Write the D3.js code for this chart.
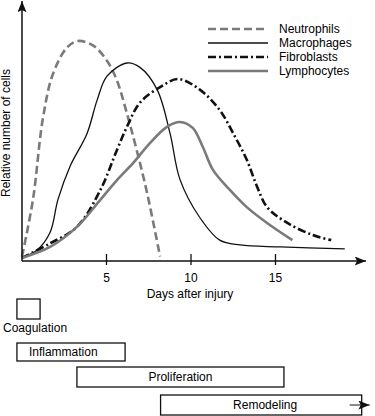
<!DOCTYPE html>
<html>
<head>
<meta charset="utf-8">
<script src="https://cdn.jsdelivr.net/npm/d3@7"></script>
<style>
body{margin:0;background:#fff;}
svg{display:block;font-family:"Liberation Sans",Arial,sans-serif;}
</style>
</head>
<body>
<svg id="chart" width="375" height="416"></svg>
<script>
// curves: [day, relative amount]
var neutrophils = [[0,2],[0.65,28],[1.24,65],[1.83,85],[2.66,97],[3.3,100],[4.2,98],[5.03,91],[5.62,82],[6.21,67],[6.8,50],[7.4,31],[8.17,2]];
var macrophages = [[0,1.4],[0.89,5],[1.66,13],[2.13,28],[2.84,43],[3.85,58],[4.44,73],[5.03,84],[6.21,90],[6.98,88],[7.99,78],[8.76,58],[9.35,37],[10.5,20],[11.7,9.5],[12.9,7.3],[15.3,6.4],[19.1,5.5]];
var fibroblasts = [[0,1.4],[1.66,8],[3.25,15.5],[4.62,32],[5.62,50.5],[6.21,61],[6.98,72],[8.17,79],[9.23,82.7],[10.5,78],[11.7,68.6],[12.5,58],[13.3,46],[13.9,34],[14.5,24.5],[15.7,17.3],[17.2,11.8],[18.3,9.5]];
var lymphocytes = [[0,1.4],[1.66,6.4],[3.25,15.5],[4.62,27.7],[5.62,36.8],[6.57,44.5],[7.57,53.6],[8.58,61],[9.35,63.2],[10.1,60.5],[10.7,51.8],[11.3,41.4],[12.3,32.3],[13.3,24.5],[14.5,17.3],[16,9.5]];

var seriesNames = ["Neutrophils","Macrophages","Fibroblasts","Lymphocytes"];
var xTicks = [5,10,15];

// phases below the chart: [name, start day, end day]
var phases = [["Coagulation",-0.3,1.07],["Inflammation",-0.3,6.1],["Proliferation",3.25,15.5],["Remodeling",8.2,20.1]];

var svg = d3.select("#chart");
var x = d3.scaleLinear().domain([0,20]).range([22,360]);
var y = d3.scaleLinear().domain([0,100]).range([261,41]);

var styles = {
  Neutrophils:{stroke:"#7a7a7a",width:2.6,dash:"8,4"},
  Macrophages:{stroke:"#111",width:1.3,dash:null},
  Fibroblasts:{stroke:"#111",width:2.6,dash:"8,3,2,3"},
  Lymphocytes:{stroke:"#7a7a7a",width:2.6,dash:null}
};
var allData = [neutrophils,macrophages,fibroblasts,lymphocytes];

var defs = svg.append("defs");
defs.append("marker").attr("id","arr").attr("viewBox","0 0 10 8")
  .attr("refX",10).attr("refY",4).attr("markerWidth",12).attr("markerHeight",9)
  .attr("markerUnits","userSpaceOnUse").attr("orient","auto")
  .append("path").attr("d","M0,0L10,4L0,8L2,4Z").attr("fill","#111");

// curves
var line = d3.line().x(d=>x(d[0])).y(d=>y(d[1])).curve(d3.curveCatmullRom.alpha(0.5));
svg.selectAll("path.curve").data(allData).enter()
  .append("path").attr("class","curve")
  .attr("d",d=>line(d))
  .attr("fill","none")
  .attr("stroke",(d,i)=>styles[seriesNames[i]].stroke)
  .attr("stroke-width",(d,i)=>styles[seriesNames[i]].width)
  .attr("stroke-dasharray",(d,i)=>styles[seriesNames[i]].dash);

// axes
svg.append("line").attr("x1",x(0)).attr("y1",y(0)).attr("x2",366).attr("y2",y(0))
  .attr("stroke","#111").attr("stroke-width",1.5).attr("marker-end","url(#arr)");
svg.append("line").attr("x1",x(0)).attr("y1",y(0)).attr("x2",x(0)).attr("y2",1)
  .attr("stroke","#111").attr("stroke-width",1.5).attr("marker-end","url(#arr)");

svg.selectAll("line.tick").data(xTicks).enter()
  .append("line").attr("class","tick")
  .attr("x1",d=>x(d)).attr("x2",d=>x(d))
  .attr("y1",y(0)-7).attr("y2",y(0)+4)
  .attr("stroke","#111").attr("stroke-width",1.3);
svg.selectAll("text.tl").data(xTicks).enter()
  .append("text").attr("class","tl")
  .attr("x",d=>x(d)).attr("y",y(0)+21)
  .attr("text-anchor","middle").attr("font-size",12)
  .text(d=>d);

svg.append("text").attr("x",190).attr("y",298)
  .attr("text-anchor","middle").attr("font-size",12).text("Days after injury");
svg.append("text").attr("transform","translate(10,133) rotate(-90)")
  .attr("text-anchor","middle").attr("font-size",12).text("Relative number of cells");

// legend
var lg = svg.append("g").attr("transform","translate(208,29)");
lg.selectAll("line").data(seriesNames).enter()
  .append("line").attr("x1",0).attr("x2",60)
  .attr("y1",(d,i)=>i*14).attr("y2",(d,i)=>i*14)
  .attr("stroke",d=>styles[d].stroke)
  .attr("stroke-width",d=>styles[d].width)
  .attr("stroke-dasharray",d=>styles[d].dash);
lg.selectAll("text").data(seriesNames).enter()
  .append("text").attr("x",71).attr("y",(d,i)=>i*14+4)
  .attr("font-size",12).text(d=>d);

// phase boxes
var boxY = [299,343,367,395], boxH = [20,18,20,20];
var pg = svg.append("g");
pg.selectAll("rect").data(phases).enter()
  .append("rect")
  .attr("x",d=>x(d[1])).attr("width",d=>x(d[2])-x(d[1]))
  .attr("y",(d,i)=>boxY[i]).attr("height",(d,i)=>boxH[i])
  .attr("fill","none").attr("stroke","#111").attr("stroke-width",1.3);
pg.selectAll("text").data(phases).enter()
  .append("text")
  .attr("x",(d,i)=>i==0 ? 3 : i==1 ? x(d[1])+12 : (x(d[1])+x(d[2]))/2+(i==3?4:0))
  .attr("y",(d,i)=>i==0 ? 332 : boxY[i]+boxH[i]/2+4)
  .attr("text-anchor",(d,i)=>i<2 ? "start" : "middle")
  .attr("font-size",12).text(d=>d[0]);

var rm = phases[3];
svg.append("line").attr("x1",x(rm[2])-12).attr("x2",x(rm[2])+8)
  .attr("y1",405).attr("y2",405).attr("stroke","#111").attr("stroke-width",1)
  .attr("marker-end","url(#arr)");
</script>
</body>
</html>
